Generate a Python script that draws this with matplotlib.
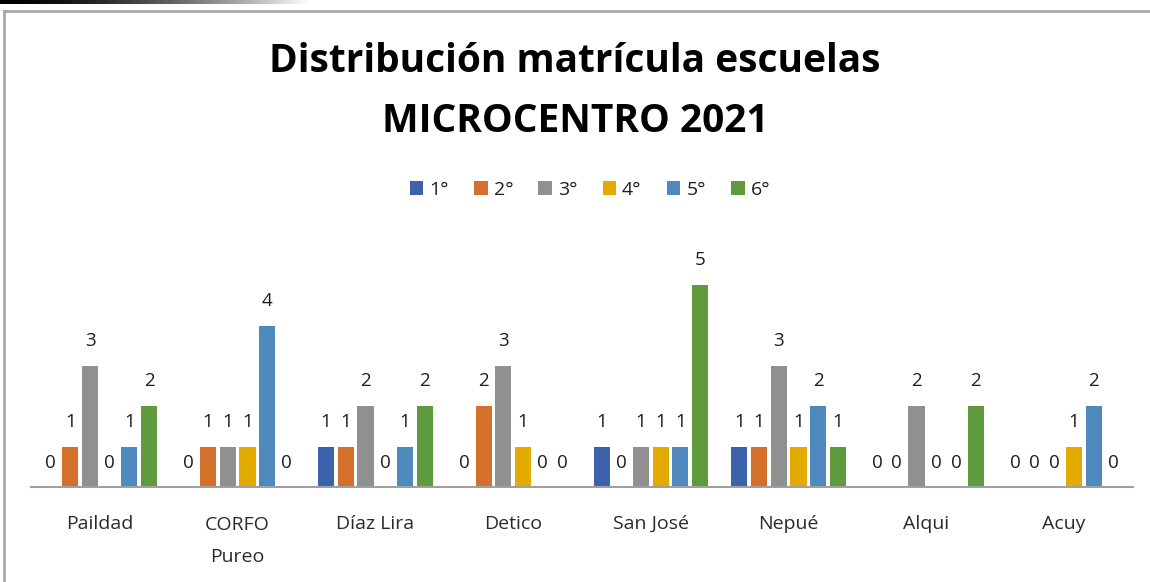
import numpy as np
import matplotlib
matplotlib.use("Agg")
import matplotlib.pyplot as plt
from matplotlib.lines import Line2D
from matplotlib.transforms import ScaledTranslation

categories = ["Paildad", "CORFO\nPureo", "Díaz Lira", "Detico", "San José", "Nepué", "Alqui", "Acuy"]
series_names = ["1°", "2°", "3°", "4°", "5°", "6°"]
g1 = [0, 0, 1, 0, 1, 1, 0, 0]
g2 = [1, 1, 1, 2, 0, 1, 0, 0]
g3 = [3, 1, 2, 3, 1, 3, 2, 0]
g4 = [0, 1, 0, 1, 1, 1, 0, 1]
g5 = [1, 4, 1, 0, 1, 2, 0, 2]
g6 = [2, 0, 2, 0, 5, 1, 2, 0]
series = [g1, g2, g3, g4, g5, g6]
colors = ["#3D62AC", "#D3702C", "#909090", "#E3AA00", "#4F89BE", "#5F9A3D"]
title_lines = ["Distribución matrícula escuelas", "MICROCENTRO 2021"]

FONT = "Open Sans"
W, H = 1150, 582
fig = plt.figure(figsize=(W / 100, H / 100), dpi=100)

def fx(px):
    return px / W

def fy(py):
    return 1 - py / H

# top-left dark gradient strip
gax = fig.add_axes([0, fy(4), fx(310), 4 / H])
grad = np.linspace(0, 1, 256)[None, :] ** 1.6
gax.imshow(grad, aspect="auto", cmap="gray", vmin=0, vmax=1)
gax.axis("off")

# chart border (top and left)
fig.add_artist(Line2D([fx(4), 1.0], [fy(11), fy(11)], color="#a8a8a8", lw=2, transform=fig.transFigure))
fig.add_artist(Line2D([fx(4), fx(4)], [fy(11), 0], color="#a8a8a8", lw=2, transform=fig.transFigure))

ax = fig.add_axes([fx(31), fy(487), fx(1102), (487 - 245) / H])
n = len(series)
x = np.arange(len(categories))
step = 0.143
bw = 0.117
for i, (vals, c, name) in enumerate(zip(series, colors, series_names)):
    pos = x + (i - (n - 1) / 2) * step
    ax.bar(pos, vals, width=bw, color=c, label=name, zorder=2)
    for p, v in zip(pos, vals):
        yy = v + 0.62 if v > 0 else 0.6
        ax.text(p, yy, str(v), ha="center", va="center", fontsize=13.5,
                color="#1e1e1e", family=FONT)

ax.set_xlim(-0.5, len(categories) - 0.5)
ax.set_ylim(0, 6)
for s in ["top", "right", "left"]:
    ax.spines[s].set_visible(False)
ax.spines["bottom"].set_color("#a0a0a0")
ax.spines["bottom"].set_linewidth(1.5)
ax.set_yticks([])
ax.set_xticks(x)
ax.tick_params(axis="x", length=0, pad=30)
ax.set_xticklabels(categories, fontsize=14, color="#2a2a2a", family=FONT, linespacing=2.0,
                   va="baseline")
# align the first line of multi-line labels with the single-line labels
for lab, cat in zip(ax.get_xticklabels(), categories):
    extra = cat.count("\n")
    if extra:
        lab.set_transform(lab.get_transform() +
                          ScaledTranslation(0, -extra * 0.33, fig.dpi_scale_trans))

fig.text(0.5, fy(62), title_lines[0], ha="center", va="center", fontsize=28, fontweight="bold",
         family=FONT, color="black")
fig.text(0.5, fy(121), title_lines[1], ha="center", va="center", fontsize=28, fontweight="bold",
         family=FONT, color="black")

leg = fig.legend(loc="center", bbox_to_anchor=(fx(590), fy(190)), ncol=6, frameon=False,
                 handlelength=0.7, handleheight=0.7, handletextpad=0.3,
                 columnspacing=1.3, prop={"family": FONT, "size": 14})
for t in leg.get_texts():
    t.set_color("#1e1e1e")

fig.savefig("out.png", dpi=100)
